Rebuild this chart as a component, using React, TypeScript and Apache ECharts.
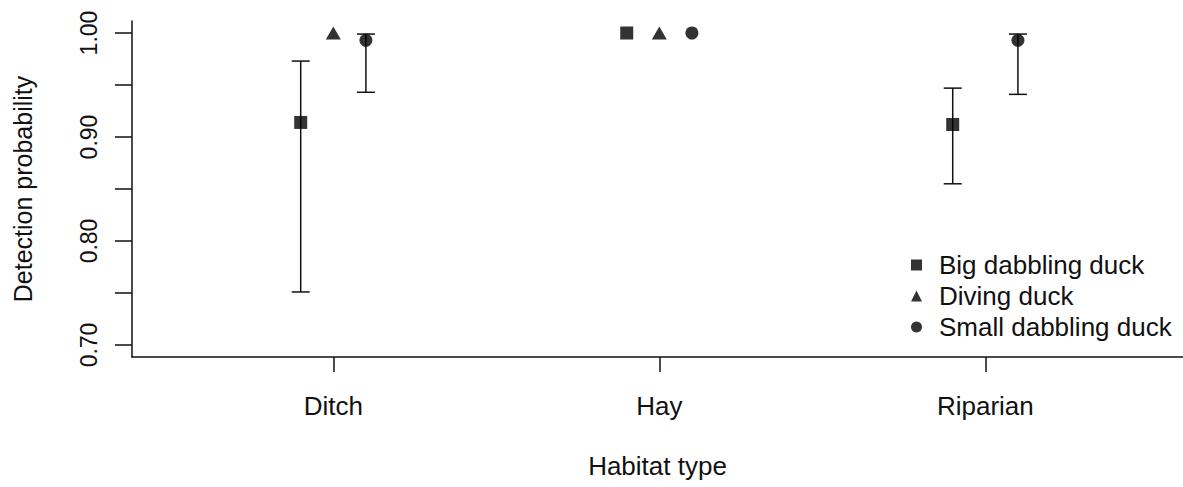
import React, { useEffect, useRef } from "react";
import * as echarts from "echarts";

const categories = ["Ditch", "Hay", "Riparian"];
const speciesNames = ["Big dabbling duck", "Diving duck", "Small dabbling duck"];

// estimates per habitat (null = not estimated)
const bigMean = [0.914, 1.0, 0.912];
const bigLow = [0.751, null, 0.855];
const bigHigh = [0.973, null, 0.947];

const divingMean = [1.0, 1.0, null];

const smallMean = [0.993, 1.0, 0.993];
const smallLow = [0.943, null, 0.941];
const smallHigh = [0.999, null, 0.999];

const yTicks = [0.7, 0.75, 0.8, 0.85, 0.9, 0.95, 1.0];
const yLabels = [0.7, 0.8, 0.9, 1.0];
const xTicks = [1, 2, 3];

const OFFSET = 0.1;
const FONT = "'Liberation Sans', Arial, Helvetica, sans-serif";
const INK = "#111";

function points(means: (number | null)[], off: number) {
  return means
    .map((v, i) => (v == null ? null : [i + 1 + off, v]))
    .filter((d) => d !== null) as number[][];
}

function bars(lo: (number | null)[], hi: (number | null)[], off: number) {
  const out: number[][] = [];
  lo.forEach((l, i) => {
    const h = hi[i];
    if (l != null && h != null) out.push([i + 1 + off, l, h]);
  });
  return out;
}

function renderErrorBar(params: any, api: any) {
  const x = api.value(0);
  const lo = api.coord([x, api.value(1)]);
  const hi = api.coord([x, api.value(2)]);
  const w = 9;
  const style = { stroke: INK, lineWidth: 1.5 };
  return {
    type: "group",
    children: [
      { type: "line", shape: { x1: lo[0], y1: lo[1], x2: hi[0], y2: hi[1] }, style },
      { type: "line", shape: { x1: lo[0] - w, y1: lo[1], x2: lo[0] + w, y2: lo[1] }, style },
      { type: "line", shape: { x1: hi[0] - w, y1: hi[1], x2: hi[0] + w, y2: hi[1] }, style },
    ],
  };
}

export default function App() {
  const ref = useRef<HTMLDivElement>(null);
  useEffect(() => {
    if (!ref.current) return;
    const chart = echarts.init(ref.current, undefined, { renderer: "svg" });
    const errBarData = [
      ...bars(bigLow, bigHigh, -OFFSET),
      ...bars(smallLow, smallHigh, OFFSET),
    ];
    chart.setOption({
      animation: false,
      backgroundColor: "#ffffff",
      textStyle: { fontFamily: FONT, color: INK },
      grid: { left: 132, right: 0, top: 21, bottom: 130, containLabel: false },
      xAxis: {
        type: "value",
        min: 0.3825,
        max: 3.6064,
        name: "Habitat type",
        nameLocation: "middle",
        nameGap: 96,
        nameTextStyle: { fontSize: 26, color: INK, fontFamily: FONT },
        axisLine: { onZero: false, lineStyle: { color: INK, width: 1.5 } },
        axisTick: { show: true, length: 15, customValues: xTicks, lineStyle: { color: INK, width: 1.5 } },
        axisLabel: {
          customValues: xTicks,
          margin: 36,
          fontSize: 26,
          color: INK,
          fontFamily: FONT,
          formatter: (v: number) => categories[Math.round(v) - 1] ?? "",
        },
        splitLine: { show: false },
      },
      yAxis: {
        type: "value",
        min: 0.68846,
        max: 1.01154,
        name: "Detection probability",
        nameLocation: "middle",
        nameGap: 97,
        nameTextStyle: { fontSize: 25, color: INK, fontFamily: FONT },
        axisLine: { show: true, onZero: false, lineStyle: { color: INK, width: 1.5 } },
        axisTick: { show: true, length: 17, customValues: yTicks, lineStyle: { color: INK, width: 1.5 } },
        axisLabel: {
          customValues: yLabels,
          rotate: 90,
          margin: 32,
          fontSize: 23,
          color: INK,
          fontFamily: FONT,
          formatter: (v: number) => v.toFixed(2),
        },
        splitLine: { show: false },
      },
      legend: {
        orient: "vertical",
        left: 906,
        top: 247,
        itemWidth: 11,
        itemHeight: 11,
        itemGap: 5,
        data: speciesNames,
        textStyle: { fontSize: 26, color: INK, fontFamily: FONT, lineHeight: 26, padding: [0, 0, 0, 12] },
        inactiveColor: "#ccc",
        selectedMode: false,
      },
      series: [
        {
          type: "custom",
          name: "errorbars",
          renderItem: renderErrorBar,
          data: errBarData,
          z: 1,
          silent: true,
        },
        {
          type: "scatter",
          name: speciesNames[0],
          symbol: "rect",
          symbolSize: 13,
          itemStyle: { color: "#000" },
          data: points(bigMean, -OFFSET),
          z: 3,
        },
        {
          type: "scatter",
          name: speciesNames[1],
          symbol: "triangle",
          symbolSize: [15, 13],
          itemStyle: { color: "#000" },
          data: points(divingMean, 0),
          z: 3,
        },
        {
          type: "scatter",
          name: speciesNames[2],
          symbol: "circle",
          symbolSize: 13,
          itemStyle: { color: "#000" },
          data: points(smallMean, OFFSET),
          z: 3,
        },
      ],
    });
    return () => chart.dispose();
  }, []);
  return (
    <div
      ref={ref}
      style={{ position: "fixed", left: 0, top: 0, width: 1183, height: 487, background: "#fff" }}
    />
  );
}
